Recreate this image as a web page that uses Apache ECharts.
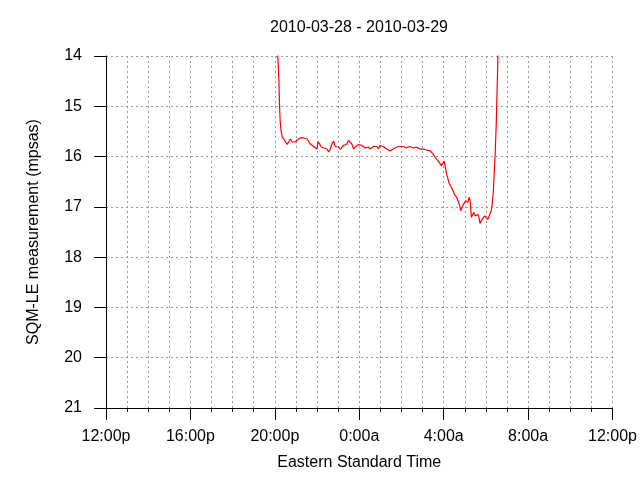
<!DOCTYPE html>
<html>
<head>
<meta charset="utf-8">
<script src="https://cdn.jsdelivr.net/npm/echarts@6/dist/echarts.min.js"></script>
<style>html,body{margin:0;padding:0;background:#fff}#c{width:640px;height:480px}</style>
</head>
<body>
<div id="c"></div>
<script>
const title = "2010-03-28 - 2010-03-29";
const xName = "Eastern Standard Time";
const yName = "SQM-LE measurement (mpsas)";
const yTicks = [14, 15, 16, 17, 18, 19, 20, 21];
const xTickHours = [12, 16, 20, 24, 28, 32, 36];
const xTickLabels = ["12:00p", "16:00p", "20:00p", "0:00a", "4:00a", "8:00a", "12:00p"];
// hours since midnight of 2010-03-28
const hours = [20.12,20.14,20.19,20.22,20.25,20.30,20.35,20.42,20.50,20.58,20.66,20.74,20.82,20.90,20.97,21.05,21.13,21.21,21.29,21.37,21.45,21.53,21.60,21.68,21.76,21.84,21.92,22.00,22.04,22.12,22.20,22.31,22.39,22.47,22.55,22.63,22.70,22.78,22.86,22.94,23.02,23.10,23.18,23.25,23.33,23.41,23.49,23.57,23.65,23.73,23.81,23.88,23.96,24.04,24.12,24.20,24.28,24.36,24.43,24.51,24.59,24.67,24.75,24.83,24.91,24.98,25.06,25.14,25.22,25.30,25.38,25.46,25.53,25.61,25.69,25.77,25.85,25.93,26.01,26.08,26.16,26.24,26.32,26.40,26.48,26.56,26.64,26.71,26.79,26.87,26.95,27.03,27.11,27.19,27.26,27.34,27.42,27.50,27.58,27.66,27.74,27.81,27.89,27.97,28.02,28.08,28.13,28.18,28.24,28.29,28.36,28.44,28.52,28.60,28.68,28.76,28.81,28.87,28.92,28.99,29.04,29.10,29.15,29.20,29.25,29.28,29.31,29.39,29.43,29.50,29.54,29.62,29.67,29.72,29.78,29.86,29.94,30.02,30.09,30.17,30.25,30.30,30.35,30.39,30.44,30.49,30.53,30.57,30.59];
const sqm = [13.0,14.0,14.45,14.95,15.28,15.51,15.61,15.65,15.66,15.76,15.75,15.65,15.71,15.68,15.71,15.67,15.65,15.63,15.61,15.63,15.61,15.65,15.68,15.75,15.78,15.80,15.78,15.85,15.71,15.75,15.81,15.83,15.80,15.85,15.91,15.85,15.75,15.69,15.80,15.78,15.81,15.85,15.83,15.78,15.76,15.75,15.68,15.69,15.75,15.85,15.81,15.78,15.76,15.75,15.78,15.81,15.83,15.85,15.81,15.85,15.83,15.80,15.78,15.80,15.85,15.78,15.81,15.80,15.81,15.85,15.88,15.89,15.91,15.85,15.83,15.81,15.83,15.80,15.78,15.80,15.81,15.83,15.81,15.80,15.81,15.83,15.80,15.81,15.83,15.85,15.87,15.85,15.83,15.87,15.88,15.88,15.89,15.95,16.00,16.05,16.09,16.13,16.18,16.16,16.09,16.21,16.33,16.41,16.51,16.56,16.61,16.68,16.76,16.80,16.88,16.98,17.08,17.01,16.96,16.98,16.88,16.85,16.91,16.81,16.87,17.01,17.21,17.18,17.11,17.18,17.15,17.15,17.21,17.33,17.28,17.28,17.18,17.21,17.25,17.23,17.08,16.95,16.71,16.35,15.95,15.35,14.68,14.0,13.0];

const data = hours.map((h, i) => [h, sqm[i]]);
const FONT = "Liberation Sans";
const grid = {left: 106, right: 26, top: 56, bottom: 72};
const gridColor = "#9a9a9a";

const chart = echarts.init(document.getElementById('c'), null, {renderer: 'canvas'});
chart.setOption({
  animation: false,
  backgroundColor: '#fff',
  title: {
    text: title, left: 354, top: 15, textAlign: 'center',
    textStyle: {fontFamily: FONT, fontSize: 16, fontWeight: 'normal', color: '#000'}
  },
  grid: grid,
  xAxis: {
    type: 'value',
    min: xTickHours[0], max: xTickHours[xTickHours.length - 1], interval: 4,
    name: xName, nameLocation: 'middle', nameGap: 47,
    nameTextStyle: {fontFamily: FONT, fontSize: 16, color: '#000'},
    axisLine: {show: true, onZero: false, lineStyle: {color: '#000', width: 1}},
    axisTick: {show: true, inside: false, length: 12, lineStyle: {color: '#000'}},
    minorTick: {show: true, splitNumber: 4, length: 4, lineStyle: {color: '#000'}},
    axisLabel: {
      margin: 21, fontFamily: FONT, fontSize: 16, color: '#000',
      formatter: v => { const i = xTickHours.indexOf(v); return i >= 0 ? xTickLabels[i] : ''; }
    },
    splitLine: {show: true, lineStyle: {color: gridColor, type: [2, 3], width: 1}},
    minorSplitLine: {show: true, lineStyle: {color: gridColor, type: [2, 3], width: 1}}
  },
  yAxis: {
    type: 'value', inverse: true,
    min: yTicks[0], max: yTicks[yTicks.length - 1], interval: 1,
    name: yName, nameLocation: 'middle', nameGap: 64,
    nameTextStyle: {fontFamily: FONT, fontSize: 16, color: '#000'},
    axisLine: {show: true, onZero: false, lineStyle: {color: '#000', width: 1}},
    axisTick: {show: true, inside: false, length: 12, lineStyle: {color: '#000'}},
    axisLabel: {margin: 24, fontFamily: FONT, fontSize: 16, color: '#000'},
    splitLine: {show: true, lineStyle: {color: gridColor, type: [2, 3], width: 1}}
  },
  series: [{
    type: 'line', data: data, showSymbol: false, symbol: 'none', clip: true,
    lineStyle: {color: '#ff0000', width: 1.2}
  }]
});
</script>
</body>
</html>
